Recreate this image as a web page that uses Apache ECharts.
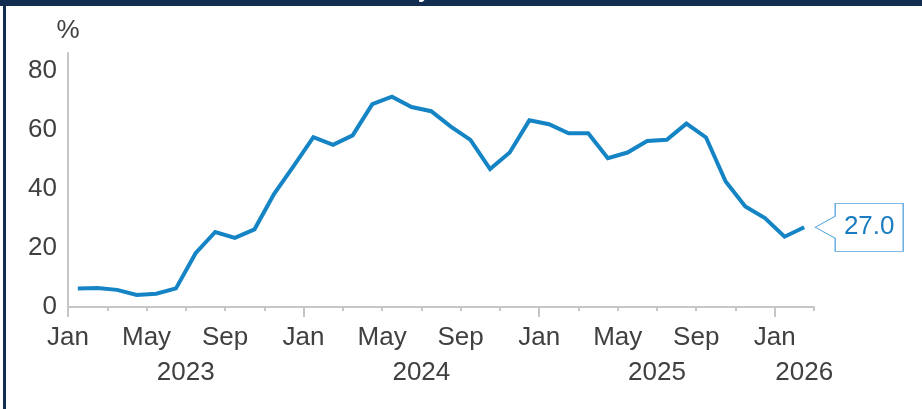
<!DOCTYPE html>
<html>
<head>
<meta charset="utf-8">
<script src="https://cdn.jsdelivr.net/npm/echarts@6/dist/echarts.min.js"></script>
<style>
  html, body { margin: 0; padding: 0; background: #ffffff; }
  #chart { width: 922px; height: 409px; }
</style>
</head>
<body>
<div id="chart"></div>
<script>
// Monthly series, Jan 2023 – Feb 2026 (per cent)
const startYear = 2023;
const monthNames = ['Jan', 'Feb', 'Mar', 'Apr', 'May', 'Jun', 'Jul', 'Aug', 'Sep', 'Oct', 'Nov', 'Dec'];
const values = [
  6.3, 6.4, 5.8, 4.1, 4.5, 6.3, 18.2, 25.4, 23.4, 26.3, 38.3, 47.8,   // 2023
  57.5, 54.9, 58.1, 68.7, 71.2, 67.7, 66.3, 61.1, 56.6, 46.7, 52.3, 63.2, // 2024
  61.9, 58.8, 58.8, 50.4, 52.3, 56.2, 56.6, 62.1, 57.4, 42.5, 34.0, 30.1, // 2025
  23.8, 27.0                                                           // 2026
];
// Axis tick labels
const monthTickLabels = ['Jan', 'May', 'Sep'];
const yearLabels = ['2023', '2024', '2025', '2026'];
const yTickLabels = [0, 20, 40, 60, 80];

const FONT = '"Liberation Sans", Arial, sans-serif';
const TEXT = '#404040';
const AXIS = '#c6c6c6';
const LINE = '#1584c5';

const nMonths = values.length;
const range = (a, b, s) => { const r = []; for (let v = a; v <= b; v += s) r.push(v); return r; };

// Month labels sit on month boundaries, at the start of their month
const monthLabelPos = range(0, nMonths - 1, 1).filter(m => monthTickLabels.includes(monthNames[m % 12]));
// Full years: label centred over the year; the partial final year: over its last month
const yearLabelPos = yearLabels.map((y, k) => {
  const first = k * 12;
  const last = first + 12;
  return last <= nMonths ? (first + last) / 2 : nMonths - 0.5;
});

const chart = echarts.init(document.getElementById('chart'), null, { renderer: 'canvas' });

const baseX = {
  type: 'value', min: 0, max: nMonths, position: 'bottom', gridIndex: 0,
  splitLine: { show: false }
};

chart.setOption({
  animation: false,
  backgroundColor: '#ffffff',
  grid: { left: 68, right: 108, top: 53, bottom: 102, containLabel: false },
  xAxis: [
    Object.assign({}, baseX, {
      axisLine: { show: true, lineStyle: { color: AXIS, width: 2 } },
      axisTick: { show: true, length: 4, lineStyle: { color: AXIS, width: 2 }, customValues: range(0, nMonths, 2) },
      axisLabel: {
        show: true, margin: 18, color: TEXT, fontSize: 26, fontFamily: FONT,
        customValues: monthLabelPos,
        formatter: v => monthNames[Math.round(v) % 12]
      }
    }),
    Object.assign({}, baseX, {
      axisLine: { show: false },
      axisTick: { show: true, length: 10, lineStyle: { color: AXIS, width: 2 }, customValues: range(0, nMonths - 1, 12) },
      axisLabel: { show: false }
    }),
    Object.assign({}, baseX, {
      offset: 35,
      axisLine: { show: false },
      axisTick: { show: false },
      axisLabel: {
        show: true, margin: 18, color: TEXT, fontSize: 26, fontFamily: FONT,
        customValues: yearLabelPos,
        formatter: v => yearLabels[yearLabelPos.indexOf(v)] || ''
      }
    })
  ],
  yAxis: {
    type: 'value', min: 0, max: 86,
    name: '%', nameLocation: 'end', nameGap: 9,
    nameTextStyle: { color: TEXT, fontSize: 26, fontFamily: FONT, align: 'center' },
    splitLine: { show: false },
    axisLine: { show: true, lineStyle: { color: AXIS, width: 2 } },
    axisTick: { show: false },
    axisLabel: {
      color: TEXT, fontSize: 26, fontFamily: FONT, margin: 11,
      customValues: yTickLabels
    }
  },
  series: [{
    type: 'line',
    xAxisIndex: 0,
    data: values.map((v, i) => [i + 0.5, v]),
    symbol: 'none',
    lineStyle: { color: LINE, width: 4, join: 'miter' },
    markPoint: {
      silent: true,
      symbol: 'path://M0 24 L20 13 L20 0 L88 0 L88 48 L20 48 L20 35 Z',
      symbolSize: [88, 48],
      symbolOffset: [55, 0],
      itemStyle: { color: '#ffffff', borderColor: '#55a5dc', borderWidth: 1 },
      label: {
        show: true, position: 'inside', offset: [10, 0],
        color: '#1a7dc2', fontSize: 26, fontFamily: FONT,
        formatter: p => p.value.toFixed(1)
      },
      data: [{ coord: [nMonths - 0.5, values[nMonths - 1]], value: values[nMonths - 1] }]
    }
  }],
  graphic: [
    // frame: navy header strip and left rule
    { type: 'rect', left: 0, top: 0, shape: { width: 922, height: 6 }, style: { fill: '#112d50' }, z: 10 },
    { type: 'rect', left: 3, top: 0, shape: { width: 3, height: 409 }, style: { fill: '#112d50' }, z: 10 },
    {
      type: 'text', left: 418, top: -20, z: 11,
      style: { text: 'y', fill: '#ffffff', font: 'bold 22px ' + FONT }
    }
  ]
});
</script>
</body>
</html>
